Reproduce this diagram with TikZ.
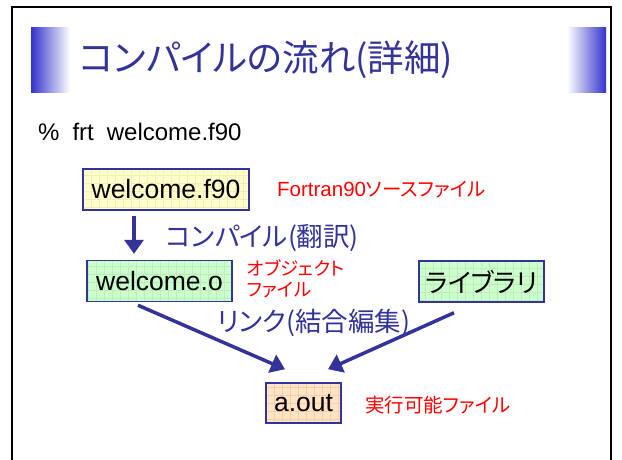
\documentclass[tikz,border=0pt]{standalone}
\usepackage{fontspec}
\setmainfont{Liberation Sans}
\newfontfamily\jp[RawFeature=+palt]{Noto Sans CJK JP}
\usetikzlibrary{arrows.meta}
\definecolor{navy}{RGB}{51,51,153}
\definecolor{barblue}{RGB}{51,51,204}
\definecolor{yel}{RGB}{255,255,204}
\definecolor{yelgrid}{RGB}{240,240,185}
\definecolor{grn}{RGB}{204,255,204}
\definecolor{grngrid}{RGB}{185,240,185}
\definecolor{pch}{RGB}{255,228,200}
\definecolor{pchgrid}{RGB}{255,205,160}
\definecolor{labred}{RGB}{255,0,0}
\tikzset{
  gridbox/.style 2 args={draw=navy, line width=1.5pt, fill=#1, inner sep=0pt,
    minimum height=41pt, font=\fontsize{26.5}{30}\selectfont,
    path picture={\draw[#2, line width=0.5pt, step=8pt]
      (path picture bounding box.south west) grid (path picture bounding box.north east);}},
  redlab/.style={labred, inner sep=0pt, anchor=west},
  bluelab/.style={navy, inner sep=0pt, anchor=west, font=\jp\fontsize{26.5}{30}\selectfont},
  arr/.style={navy, line width=3.5pt, -{Triangle[width=19pt,length=14pt]}},
}
\begin{document}
\begin{tikzpicture}[x=1pt,y=-1pt]
\useasboundingbox[fill=white] (0,0) rectangle (622,459);
% frame
\draw[line width=2pt] (12,470) -- (12,7) -- (611,7) -- (611,470);
% title bars
\shade[left color=barblue, right color=white] (31,27) rectangle (70,92);
\shade[left color=white, right color=barblue] (567,27) rectangle (606,92);
\node[anchor=west, navy, inner sep=0pt, font=\jp\fontsize{36.5}{40}\selectfont] (title) at (79,60) {コンパイルの流れ(詳細)};
% command line
\node[anchor=base west, inner sep=0pt, font=\fontsize{24}{28}\selectfont] (cmd) at (38,140) {\%\hspace{13pt}frt\hspace{13pt}welcome.f90};
% boxes
\node[gridbox={yel}{yelgrid}, minimum width=166pt] (f90) at (166,189.5) {welcome.f90};
\node[gridbox={grn}{grngrid}, minimum width=145pt] (o) at (159.5,281) {welcome.o};
\node[gridbox={grn}{grngrid}, minimum width=125pt, font=\jp\fontsize{26}{30}\selectfont] (lib) at (481.5,281.5) {ライブラリ};
\node[gridbox={pch}{pchgrid}, minimum width=75pt, minimum height=40pt] (aout) at (303.5,403) {a.out};
% labels
\node[redlab, font=\fontsize{20.5}{23}\selectfont] (src) at (277,190) {Fortran90{\jp\fontsize{19.5}{23}\selectfont ソースファイル}};
\node[redlab, font=\jp\fontsize{18.5}{21}\selectfont, align=left] (obj) at (247,278.5) {オブジェクト\\ファイル};
\node[redlab, font=\jp\fontsize{19.5}{22}\selectfont] (exe) at (365,405) {実行可能ファイル};
\node[bluelab] (comp) at (166,238) {コンパイル(翻訳)};
\node[bluelab] (link) at (217,323) {リンク(結合編集)};
% arrows
\draw[arr] ([xshift=-32pt,yshift=-5pt]f90.south) -- ([xshift=-25.5pt,yshift=6pt]o.north);
\draw[arr] ([xshift=-21.5pt,yshift=-3pt]o.south) -- ([xshift=-18.5pt,yshift=13pt]aout.north);
\draw[arr] ([xshift=-27.5pt,yshift=-10pt]lib.south) -- ([xshift=24.5pt,yshift=13pt]aout.north);
\end{tikzpicture}
\end{document}
